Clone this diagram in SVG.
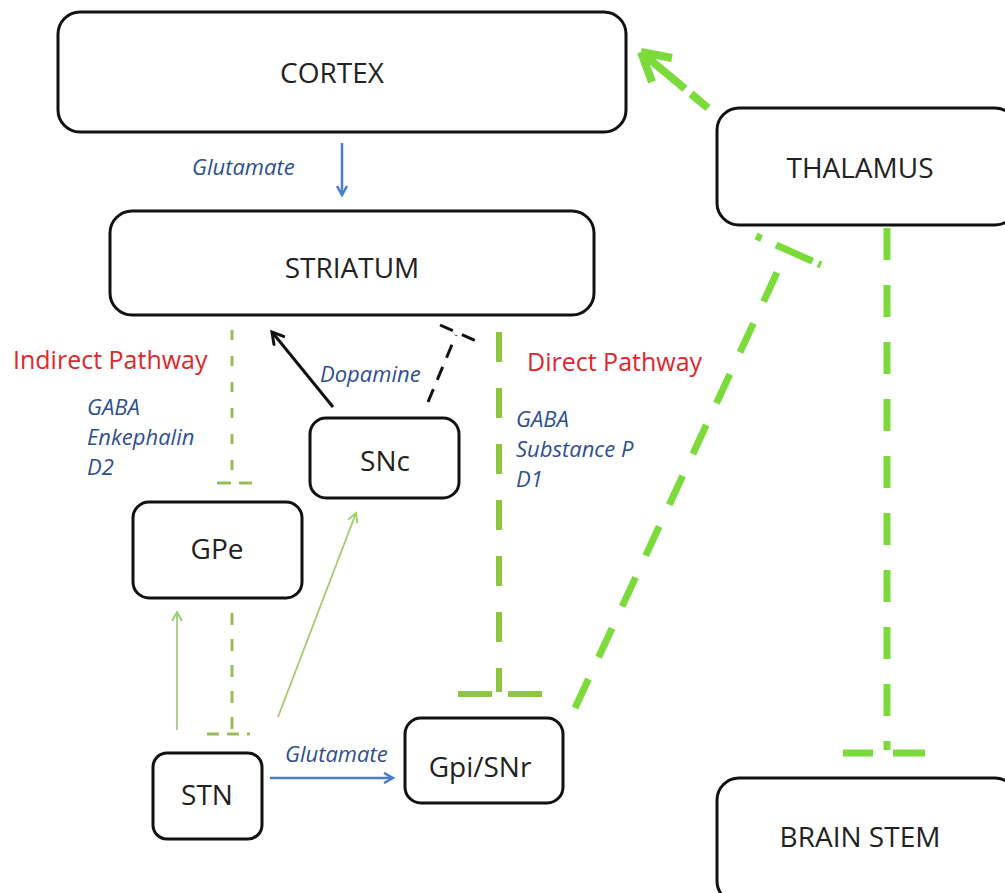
<svg xmlns="http://www.w3.org/2000/svg" width="1005" height="893" viewBox="0 0 1005 893">
<style>
.box{fill:#fff;stroke:#111;stroke-width:3}
.lbl{font-family:"Open Sans","Liberation Sans",sans-serif;font-size:28px;fill:#222;text-anchor:middle}
.nt{font-family:"Open Sans","Liberation Sans",sans-serif;font-size:22px;font-style:italic;fill:#2E4F8F}
.red{font-family:"Open Sans","Liberation Sans",sans-serif;font-size:25px;fill:#E0262C}
.blue{stroke:#4A7CC9;stroke-width:2.5;fill:none}
.thin{stroke:#A8C98A;stroke-width:1.8;fill:none}
.ind{stroke:#9BBB59;stroke-width:3;fill:none;stroke-dasharray:12 16}
.dir{stroke:#8DC63F;stroke-width:6;fill:none;stroke-dasharray:30 26}
.bri{stroke:#7ADB3A;stroke-width:7;fill:none;stroke-dasharray:32 24}
</style>
<defs>
<marker id="ab" viewBox="0 0 12 12" refX="10" refY="6" markerWidth="12" markerHeight="12" markerUnits="userSpaceOnUse" orient="auto"><path d="M1,1 L10,6 L1,11" fill="none" stroke="#4A7CC9" stroke-width="2.5"/></marker>
<marker id="ag" viewBox="0 0 12 12" refX="10" refY="6" markerWidth="12" markerHeight="12" markerUnits="userSpaceOnUse" orient="auto"><path d="M1,1 L10,6 L1,11" fill="none" stroke="#8FD45A" stroke-width="1.8"/></marker>
<marker id="ak" viewBox="0 0 16 16" refX="13" refY="8" markerWidth="16" markerHeight="16" markerUnits="userSpaceOnUse" orient="auto"><path d="M1,1 L13,8 L1,15" fill="none" stroke="#111" stroke-width="3"/></marker>
</defs>
<g id="connectors">
<line class="blue" x1="342" y1="143" x2="342" y2="195" marker-end="url(#ab)"/>
<line class="blue" x1="270" y1="778" x2="393" y2="778" marker-end="url(#ab)"/>
<line class="thin" x1="177" y1="730" x2="177" y2="612" marker-end="url(#ag)"/>
<line class="thin" x1="278" y1="717" x2="356" y2="513" marker-end="url(#ag)" style="stroke:#A5C86A"/>
<line x1="333" y1="407" x2="272" y2="332" stroke="#111" stroke-width="3" marker-end="url(#ak)"/>
<g stroke="#111" stroke-width="3" stroke-dasharray="14 10" fill="none">
<line x1="428" y1="402" x2="456" y2="335"/>
<line x1="440" y1="325" x2="483" y2="344"/>
</g>
<line class="ind" x1="232" y1="330" x2="232" y2="484" style="stroke-dasharray:10 16"/>
<line class="ind" x1="217" y1="483" x2="252" y2="483" style="stroke-dasharray:14 8"/>
<line class="ind" x1="232" y1="613" x2="232" y2="735" style="stroke-dasharray:12 14"/>
<line class="ind" x1="207" y1="734" x2="250" y2="734" style="stroke-dasharray:12 8"/>
<line class="dir" x1="499" y1="332" x2="499" y2="692"/>
<line class="dir" x1="458" y1="694" x2="546" y2="694" style="stroke-dasharray:34 16"/>
<line class="bri" x1="575" y1="708" x2="787" y2="251"/>
<line class="bri" x1="756" y1="236" x2="821" y2="265" style="stroke-dasharray:6 16 40"/>
<line class="bri" x1="887" y1="228" x2="887" y2="750" style="stroke-dasharray:32 25"/>
<line class="bri" x1="843" y1="753" x2="925" y2="753" style="stroke-dasharray:30 20 32"/>
<g stroke="#7ADB3A" stroke-width="8" fill="none" stroke-linecap="butt">
<line x1="708" y1="108" x2="642" y2="53" stroke-dasharray="22 8 60"/>
<path d="M641,52 L672,58 M641,52 L652,82"/>
</g>
</g>
<g id="labels">
<text class="nt" x="192" y="175">Glutamate</text>
<text class="nt" x="285" y="762">Glutamate</text>
<text class="nt" x="320" y="382">Dopamine</text>
<text class="red" x="13" y="369">Indirect Pathway</text>
<text class="red" x="527" y="371">Direct Pathway</text>
<text class="nt" x="87" y="415">GABA</text>
<text class="nt" x="87" y="445">Enkephalin</text>
<text class="nt" x="87" y="475">D2</text>
<text class="nt" x="516" y="427">GABA</text>
<text class="nt" x="516" y="457">Substance P</text>
<text class="nt" x="516" y="487">D1</text>
</g>
<g id="cortex"><rect class="box" x="58" y="12" width="568" height="120" rx="22"/><text class="lbl" x="332" y="83">CORTEX</text></g>
<g id="thalamus"><rect class="box" x="717" y="108" width="300" height="117" rx="22"/><text class="lbl" x="860" y="178">THALAMUS</text></g>
<g id="striatum"><rect class="box" x="110" y="211" width="484" height="104" rx="22"/><text class="lbl" x="352" y="278">STRIATUM</text></g>
<g id="snc"><rect class="box" x="310" y="418" width="149" height="80" rx="16"/><text class="lbl" x="385" y="471">SNc</text></g>
<g id="gpe"><rect class="box" x="133" y="502" width="169" height="96" rx="16"/><text class="lbl" x="217" y="559">GPe</text></g>
<g id="stn"><rect class="box" x="153" y="753" width="109" height="86" rx="14"/><text class="lbl" x="207" y="805">STN</text></g>
<g id="gpisnr"><rect class="box" x="405" y="718" width="158" height="85" rx="16"/><text class="lbl" x="480" y="777">Gpi/SNr</text></g>
<g id="brainstem"><rect class="box" x="717" y="778" width="300" height="125" rx="22"/><text class="lbl" x="860" y="847">BRAIN STEM</text></g>
</svg>
